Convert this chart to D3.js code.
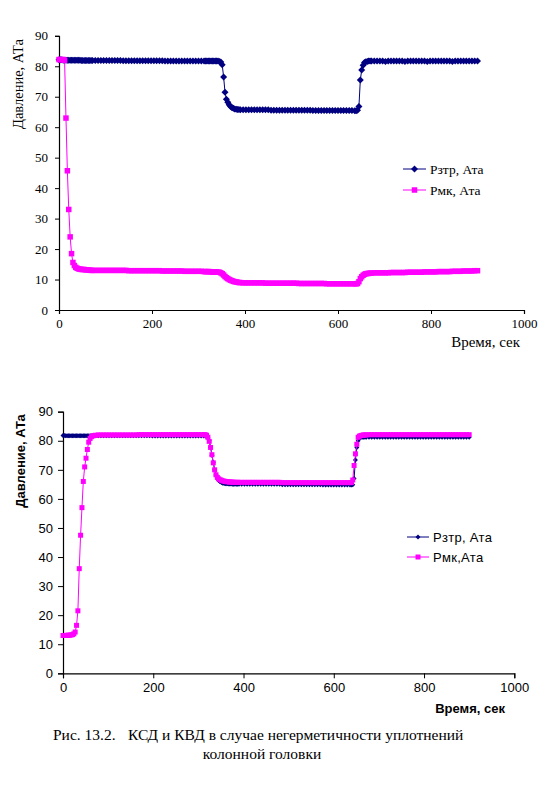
<!DOCTYPE html>
<html><head><meta charset="utf-8">
<script src="https://cdn.jsdelivr.net/npm/d3@7"></script>
<style>body{margin:0;background:#fff}svg{display:block}</style>
</head><body>
<svg id="c" width="553" height="798"></svg>
<script>
// time, s (shared sampling of both charts)
const times = [
  0,3,6,9,12,15,18,21,24,27,30,33,36,39,42,45,48,51,54,57,60,63,66,69,72,
  78,84,90,96,102,108,114,120,126,132,138,144,150,156,162,168,174,180,186,192,198,204,210,216,222,228,234,240,246,252,258,264,270,276,282,288,294,300,306,
  312,315,318,321,324,327,330,333,336,339,342,345,348,351,354,357,360,363,366,369,372,375,378,381,384,387,390,
  396,402,408,414,420,426,432,438,444,450,456,462,468,474,480,486,492,498,504,510,516,522,528,534,540,546,552,558,564,570,576,582,588,594,600,606,612,618,624,630,
  636,639,642,645,648,651,654,657,660,663,666,669,672,
  678,684,690,696,702,708,714,720,726,732,738,744,750,756,762,768,774,780,786,792,798,804,810,816,822,828,834,840,846,852,858,864,870,876,882,888,894,900
];
// top chart: Рзтр
const topZtr = [
  82.1,82.1,82.1,82.0,82.0,82.0,82.0,82.0,82.0,82.0,82.0,82.0,82.0,82.0,82.0,82.0,81.9,81.9,81.9,81.9,81.9,81.9,81.9,81.9,81.9,
  81.9,81.9,81.9,81.9,81.9,81.9,81.9,81.9,81.9,81.9,81.8,81.8,81.8,81.8,81.8,81.8,81.8,81.8,81.8,81.8,81.8,81.8,81.8,81.8,81.8,81.7,81.7,81.7,81.7,81.7,81.7,81.7,81.7,81.7,81.7,81.7,81.7,81.7,81.7,
  81.7,81.7,81.7,81.7,81.7,81.7,81.7,81.7,81.7,81.7,81.7,81.6,81.4,80.5,76.5,71.5,69.2,68.2,67.4,66.8,66.4,66.2,66.0,65.9,65.8,65.8,65.7,
  65.7,65.7,65.7,65.7,65.7,65.7,65.7,65.7,65.7,65.7,65.6,65.6,65.6,65.6,65.6,65.6,65.6,65.6,65.6,65.6,65.6,65.6,65.6,65.6,65.6,65.5,65.5,65.5,65.5,65.5,65.5,65.5,65.5,65.5,65.5,65.5,65.5,65.5,65.5,65.5,
  65.4,65.4,65.6,66.8,75.5,78.8,80.3,81.2,81.5,81.6,81.7,81.7,81.7,
  81.7,81.7,81.7,81.7,81.6,81.7,81.7,81.7,81.7,81.7,81.7,81.6,81.7,81.7,81.7,81.7,81.7,81.7,81.7,81.6,81.7,81.7,81.7,81.7,81.7,81.7,81.7,81.7,81.6,81.7,81.7,81.7,81.7,81.7,81.7,81.7,81.7,81.7
];
// top chart: Рмк
const topMk = [
  82.2,82.2,82.2,82.2,82.0,63.0,45.7,33.0,24.0,18.5,15.6,14.6,14.0,13.7,13.5,13.4,13.3,13.3,13.3,13.2,13.2,13.1,13.1,13.0,13.0,
  13.0,13.0,13.0,13.0,13.0,13.0,13.0,13.0,13.0,13.0,13.0,13.0,12.9,12.9,12.9,12.9,12.9,12.9,12.9,12.9,12.9,12.9,12.9,12.9,12.8,12.8,12.8,12.8,12.8,12.8,12.8,12.8,12.7,12.7,12.7,12.7,12.7,12.7,12.7,
  12.6,12.6,12.6,12.6,12.6,12.5,12.5,12.5,12.5,12.5,12.4,12.4,12.2,11.9,11.5,11.0,10.6,10.3,10.0,9.8,9.6,9.4,9.3,9.2,9.1,9.0,9.0,
  8.9,8.9,8.9,8.9,8.9,8.9,8.9,8.9,8.8,8.8,8.8,8.8,8.8,8.8,8.8,8.8,8.8,8.8,8.8,8.8,8.7,8.7,8.7,8.7,8.7,8.7,8.7,8.7,8.7,8.7,8.6,8.6,8.6,8.6,8.6,8.6,8.6,8.6,8.6,8.6,
  8.6,8.6,8.7,9.3,10.3,10.9,11.4,11.7,11.9,12.0,12.0,12.1,12.1,
  12.2,12.2,12.2,12.2,12.2,12.2,12.3,12.3,12.3,12.3,12.3,12.3,12.4,12.4,12.4,12.4,12.4,12.4,12.5,12.5,12.5,12.5,12.5,12.6,12.6,12.6,12.6,12.6,12.7,12.7,12.7,12.7,12.8,12.8,12.8,12.8,12.9,12.9
];
// bottom chart: Рзтр
const botZtr = [
  81.8,81.8,81.7,81.7,81.7,81.7,81.7,81.7,81.7,81.7,81.7,81.7,81.7,81.7,81.7,81.7,81.7,81.7,81.7,81.7,81.7,81.7,81.7,81.7,81.7,
  81.7,81.7,81.7,81.7,81.7,81.7,81.7,81.7,81.7,81.7,81.7,81.7,81.7,81.7,81.7,81.7,81.7,81.7,81.7,81.7,81.6,81.6,81.6,81.6,81.6,81.6,81.6,81.6,81.6,81.6,81.6,81.6,81.6,81.6,81.6,81.6,81.6,81.6,81.6,
  81.6,81.6,81.5,81.0,80.0,77.8,75.0,72.6,70.0,68.2,67.0,66.3,65.9,65.6,65.4,65.3,65.2,65.2,65.1,65.1,65.1,65.0,65.0,65.0,65.0,65.0,65.0,
  65.0,65.0,65.0,65.0,65.0,65.0,65.0,65.0,65.0,65.0,65.0,65.0,65.0,65.0,65.0,64.9,64.9,64.9,64.9,64.9,64.9,64.9,64.9,64.9,64.9,64.9,64.9,64.9,64.9,64.9,64.8,64.8,64.8,64.8,64.8,64.8,64.8,64.8,64.8,64.8,
  64.8,64.8,64.9,67.0,73.4,77.7,80.0,80.9,81.1,81.2,81.2,81.2,81.2,
  81.2,81.2,81.2,81.2,81.2,81.2,81.2,81.2,81.2,81.2,81.2,81.2,81.2,81.2,81.2,81.2,81.2,81.2,81.2,81.2,81.2,81.2,81.2,81.2,81.2,81.2,81.2,81.2,81.2,81.2,81.2,81.2,81.2,81.2,81.2,81.2,81.2,81.2
];
// bottom chart: Рмк
const botMk = [
  13.0,13.0,13.0,13.1,13.1,13.1,13.2,13.3,13.6,14.2,16.5,21.5,36.0,47.5,57.0,66.0,71.0,74.0,77.0,79.5,80.8,81.4,81.7,81.8,81.9,
  82.0,82.0,82.0,82.0,82.0,82.0,82.0,82.0,82.0,82.0,82.0,82.0,82.0,82.0,82.0,82.1,82.1,82.1,82.1,82.1,82.1,82.1,82.1,82.1,82.1,82.1,82.1,82.1,82.1,82.1,82.1,82.1,82.1,82.1,82.1,82.1,82.1,82.1,82.1,
  82.1,82.1,81.9,81.2,79.8,77.7,75.2,72.4,70.0,68.3,67.4,66.9,66.6,66.4,66.2,66.1,66.0,65.9,65.9,65.8,65.8,65.8,65.7,65.7,65.7,65.7,65.7,
  65.7,65.7,65.7,65.7,65.7,65.7,65.7,65.7,65.7,65.7,65.7,65.7,65.7,65.7,65.7,65.6,65.6,65.6,65.6,65.6,65.6,65.6,65.6,65.6,65.6,65.6,65.6,65.6,65.6,65.6,65.6,65.6,65.6,65.6,65.6,65.6,65.6,65.6,65.6,65.6,
  65.6,65.6,66.5,71.5,75.5,78.8,81.2,81.6,81.8,81.9,82.0,82.0,82.0,
  82.1,82.1,82.1,82.1,82.1,82.1,82.1,82.1,82.1,82.1,82.1,82.1,82.1,82.1,82.1,82.1,82.1,82.1,82.1,82.1,82.1,82.1,82.1,82.1,82.1,82.1,82.1,82.1,82.1,82.1,82.1,82.1,82.1,82.1,82.1,82.1,82.1,82.1
];
const xTicks = [0, 200, 400, 600, 800, 1000];
const yTicks = [0, 10, 20, 30, 40, 50, 60, 70, 80, 90];
const seriesNames = ["Рзтр, Ата", "Рмк, Ата"];
const seriesNamesBottom = ["Рзтр, Ата", "Рмк,Ата"];
const yTitle = "Давление, АТа";
const xTitle = "Время, сек";
const caption1a = "Рис. 13.2.";
const caption1b = "КСД и КВД в случае негерметичности уплотнений";
const caption2 = "колонной головки";

const svg = d3.select("#c");
const NAVY = "#000080", PINK = "#ff00ff";

function diamond(r){ return `M0,${-r}L${r},0L0,${r}L${-r},0Z`; }
function square(s){ const h=s/2; return `M${-h},${-h}H${h}V${h}H${-h}Z`; }

function drawChart(o) {
  const x = d3.scaleLinear().domain([0, 1000]).range([o.x0, o.x1]);
  const y = d3.scaleLinear().domain([0, 90]).range([o.y0, o.y1]);
  const g = svg.append("g").attr("font-family", o.font).attr("font-size", o.fs).attr("fill", "#000");

  const xa = g.append("g").attr("transform", `translate(0,${o.y0})`)
    .call(d3.axisBottom(x).tickValues(xTicks).tickSize(o.tick).tickPadding(o.xPad).tickFormat(d3.format("d")));
  const ya = g.append("g").attr("transform", `translate(${o.x0},0)`)
    .call(d3.axisLeft(y).tickValues(yTicks).tickSize(o.tick).tickPadding(o.yPad).tickFormat(d3.format("d")));
  [xa, ya].forEach(a => {
    a.attr("font-family", o.font).attr("font-size", o.fs);
    a.select(".domain").attr("stroke", "#000").attr("stroke-width", 1.2);
    a.selectAll(".tick line").attr("stroke", "#000");
    a.selectAll(".tick text").attr("fill", "#000");
  });

  const series = [
    {v: o.v1, color: NAVY, sym: diamond(o.dR)},
    {v: o.v2, color: PINK, sym: square(o.sq)}
  ];
  const line = d3.line().x((d, i) => x(times[i])).y(d => y(d));
  series.forEach(s => {
    g.append("path").datum(s.v).attr("d", line).attr("fill", "none").attr("stroke", s.color).attr("stroke-width", 1);
    g.append("g").selectAll("path").data(s.v).join("path")
      .attr("d", s.sym).attr("transform", (d, i) => `translate(${x(times[i])},${y(d)})`)
      .attr("fill", s.color);
  });

  // legend
  const lg = g.append("g");
  o.names.forEach((n, i) => {
    const s = series[i], ly = o.legY[i];
    lg.append("line").attr("x1", o.legX[0]).attr("x2", o.legX[1]).attr("y1", ly).attr("y2", ly).attr("stroke", s.color);
    lg.append("path").attr("d", s.sym).attr("transform", `translate(${(o.legX[0]+o.legX[1])/2},${ly})`).attr("fill", s.color);
    lg.append("text").attr("x", o.legX[2]).attr("y", ly).attr("dy", "0.35em").attr("font-size", o.legFs)
      .attr("letter-spacing", o.legLs).text(n);
  });

  // titles
  g.append("text").attr("transform", `translate(${o.yTitleX},${o.yTitleY}) rotate(-90)`)
    .attr("text-anchor", "middle").attr("font-weight", o.titleW).attr("font-size", o.yTitleFs).text(yTitle);
  g.append("text").attr("x", o.xTitleX).attr("y", o.xTitleY).attr("text-anchor", "end")
    .attr("font-weight", o.titleW).attr("font-size", o.titleFs).text(xTitle);
}

drawChart({
  x0: 59, x1: 524, y0: 310, y1: 35.8, font: "'Liberation Serif', 'Times New Roman', serif", fs: 13,
  tick: 4, xPad: 5, yPad: 7, v1: topZtr, v2: topMk, dR: 3.5, sq: 5.5,
  names: seriesNames, legX: [403, 426, 430], legY: [169, 190], legFs: 13.5, legLs: 0,
  yTitleX: 23, yTitleY: 84, yTitleFs: 14.5, xTitleX: 520, xTitleY: 347, titleW: "normal", titleFs: 15
});
drawChart({
  x0: 63, x1: 514.3, y0: 673.3, y1: 411.7, font: "'Liberation Sans', Arial, sans-serif", fs: 13,
  tick: 5, xPad: 4, yPad: 5, v1: botZtr, v2: botMk, dR: 2.5, sq: 5,
  names: seriesNamesBottom, legX: [407, 429, 433], legY: [537, 557], legFs: 13, legLs: 0.3,
  yTitleX: 25, yTitleY: 461, yTitleFs: 13, xTitleX: 505, xTitleY: 713, titleW: "bold", titleFs: 13
});

const cap = svg.append("g").attr("font-family", "'Liberation Serif', 'Times New Roman', serif").attr("font-size", 15.5);
cap.append("text").attr("x", 53).attr("y", 740).text(caption1a);
cap.append("text").attr("x", 128).attr("y", 740).text(caption1b);
cap.append("text").attr("x", 262).attr("y", 759).attr("text-anchor", "middle").text(caption2);
</script>
</body></html>
